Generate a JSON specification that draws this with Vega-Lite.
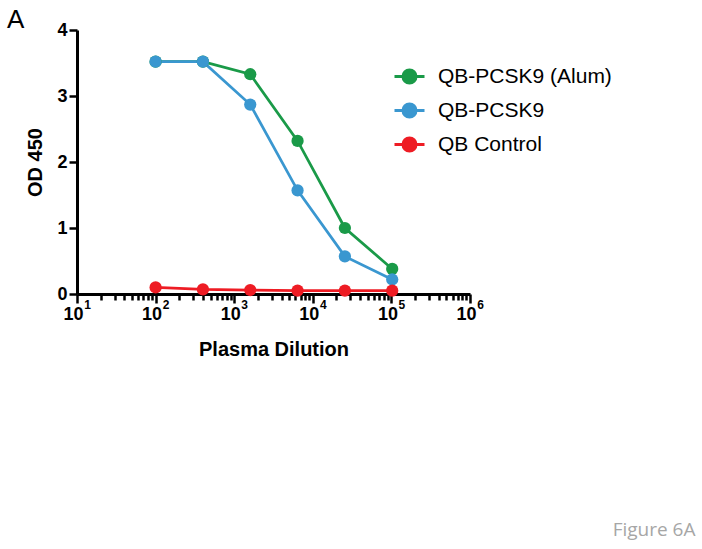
{
  "$schema": "https://vega.github.io/schema/vega-lite/v6.json",
  "autosize": {"type": "none"},
  "padding": {"left": 77, "top": 30, "right": 232, "bottom": 255},
  "background": "white",
  "config": {"view": {"stroke": null}, "font": "Liberation Sans"},
  "title": {"text": "A", "anchor": "start", "frame": "group", "dx": -70, "dy": 33, "offset": 0, "baseline": "alphabetic", "font": "Liberation Sans", "fontSize": 26, "fontWeight": "normal", "color": "black"},
  "width": 393,
  "height": 264,
  "data": {"values": [
    {"series": "QB-PCSK9 (Alum)", "dilution": 100, "od": 3.52},
    {"series": "QB-PCSK9 (Alum)", "dilution": 400, "od": 3.52},
    {"series": "QB-PCSK9 (Alum)", "dilution": 1600, "od": 3.33},
    {"series": "QB-PCSK9 (Alum)", "dilution": 6400, "od": 2.32},
    {"series": "QB-PCSK9 (Alum)", "dilution": 25600, "od": 1.0},
    {"series": "QB-PCSK9 (Alum)", "dilution": 102400, "od": 0.38},
    {"series": "QB-PCSK9", "dilution": 100, "od": 3.52},
    {"series": "QB-PCSK9", "dilution": 400, "od": 3.52},
    {"series": "QB-PCSK9", "dilution": 1600, "od": 2.87},
    {"series": "QB-PCSK9", "dilution": 6400, "od": 1.57},
    {"series": "QB-PCSK9", "dilution": 25600, "od": 0.57},
    {"series": "QB-PCSK9", "dilution": 102400, "od": 0.22},
    {"series": "QB Control", "dilution": 100, "od": 0.1},
    {"series": "QB Control", "dilution": 400, "od": 0.07},
    {"series": "QB Control", "dilution": 1600, "od": 0.06},
    {"series": "QB Control", "dilution": 6400, "od": 0.05},
    {"series": "QB Control", "dilution": 25600, "od": 0.05},
    {"series": "QB Control", "dilution": 102400, "od": 0.05}
  ]},
  "encoding": {
    "y": {"field": "od", "type": "quantitative",
      "scale": {"domain": [0, 4], "nice": false},
      "axis": {
        "title": "OD 450", "values": [0,1,2,3,4],
        "tickSize": 8, "tickWidth": 2.5, "tickColor": "black",
        "domainWidth": 3, "domainColor": "black", "grid": false,
        "labelFont": "Liberation Sans", "labelFontWeight": "bold", "labelFontSize": 18, "labelColor": "black", "labelPadding": 2,
        "titleFont": "Liberation Sans", "titleFontWeight": "bold", "titleFontSize": 20, "titleColor": "black", "titlePadding": 11
      }
    },
    "color": {"field": "series", "type": "nominal",
      "scale": {"domain": ["QB-PCSK9 (Alum)", "QB-PCSK9", "QB Control"], "range": ["#1a9a48", "#3a97d0", "#ee1c24"]},
      "legend": {
        "title": null, "orient": "none", "legendX": 321, "legendY": 35,
        "symbolType": "M-1.5,0H1.5M0.65,0A0.65,0.65,0,1,1,-0.65,0A0.65,0.65,0,1,1,0.65,0Z",
        "symbolSize": 400, "symbolStrokeWidth": 3, "labelOffset": 17, "rowPadding": 9, "padding": 0,
        "labelFont": "Liberation Sans", "labelFontSize": 21, "labelColor": "black", "labelLimit": 300,
        "encode": {"symbols": {"update": {"fill": {"scale": "color", "field": "value"}, "stroke": {"scale": "color", "field": "value"}, "opacity": {"value": 1}, "fillOpacity": {"value": 1}}}}
      }
    },
    "order": {"field": "dilution", "type": "quantitative"}
  },
  "layer": [
    {
      "mark": {"type": "line", "strokeWidth": 2.75, "clip": false},
      "encoding": {
        "x": {"field": "dilution", "type": "quantitative",
          "scale": {"type": "log", "domain": [10, 1000000], "nice": false},
          "axis": {
            "orient": "bottom",
            "title": "Plasma Dilution",
            "values": [10,20,30,40,50,60,70,80,90,100,200,300,400,500,600,700,800,900,1000,2000,3000,4000,5000,6000,7000,8000,9000,10000,20000,30000,40000,50000,60000,70000,80000,90000,100000,200000,300000,400000,500000,600000,700000,800000,900000,1000000],
            "labelExpr": "abs(log(datum.value)/LN10 - round(log(datum.value)/LN10)) < 0.000001 ? '10' : ''",
            "tickSize": {"condition": {"test": "abs(log(datum.value)/LN10 - round(log(datum.value)/LN10)) < 0.000001", "value": 9}, "value": 6},
            "tickWidth": 2.5, "tickColor": "black",
            "domainWidth": 3, "domainColor": "black",
            "grid": false, "labelOverlap": false, "labelFlush": false, "labelOffset": -4,
            "labelFont": "Liberation Sans", "labelFontWeight": "bold", "labelFontSize": 18, "labelColor": "black", "labelPadding": 2,
            "titleFont": "Liberation Sans", "titleFontWeight": "bold", "titleFontSize": 20, "titleColor": "black", "titlePadding": 16
          }
        }
      }
    },
    {
      "mark": {"type": "point", "filled": true, "size": 150, "opacity": 1, "clip": false},
      "encoding": {
        "x": {"field": "dilution", "type": "quantitative",
          "scale": {"type": "log", "domain": [10, 1000000], "nice": false},
          "axis": {
            "orient": "bottom",
            "title": "Figure 6A", "titleX": 618, "titleY": 241, "titleAlign": "right", "titleBaseline": "alphabetic", "titleAngle": 0,
            "titleFont": "Open Sans", "titleFontWeight": "normal", "titleFontSize": 19, "titleColor": "#a6a6a6",
            "values": [10,100,1000,10000,100000,1000000],
            "labelExpr": "round(log(datum.value)/LN10)",
            "ticks": false, "tickSize": 0, "domain": false, "grid": false,
            "labelOverlap": false, "labelFlush": false, "labelOffset": 10,
            "labelFont": "Liberation Sans", "labelFontWeight": "bold", "labelFontSize": 12, "labelColor": "black", "labelPadding": 5
          }
        }
      }
    }
  ],
  "resolve": {"axis": {"x": "independent"}}
}
